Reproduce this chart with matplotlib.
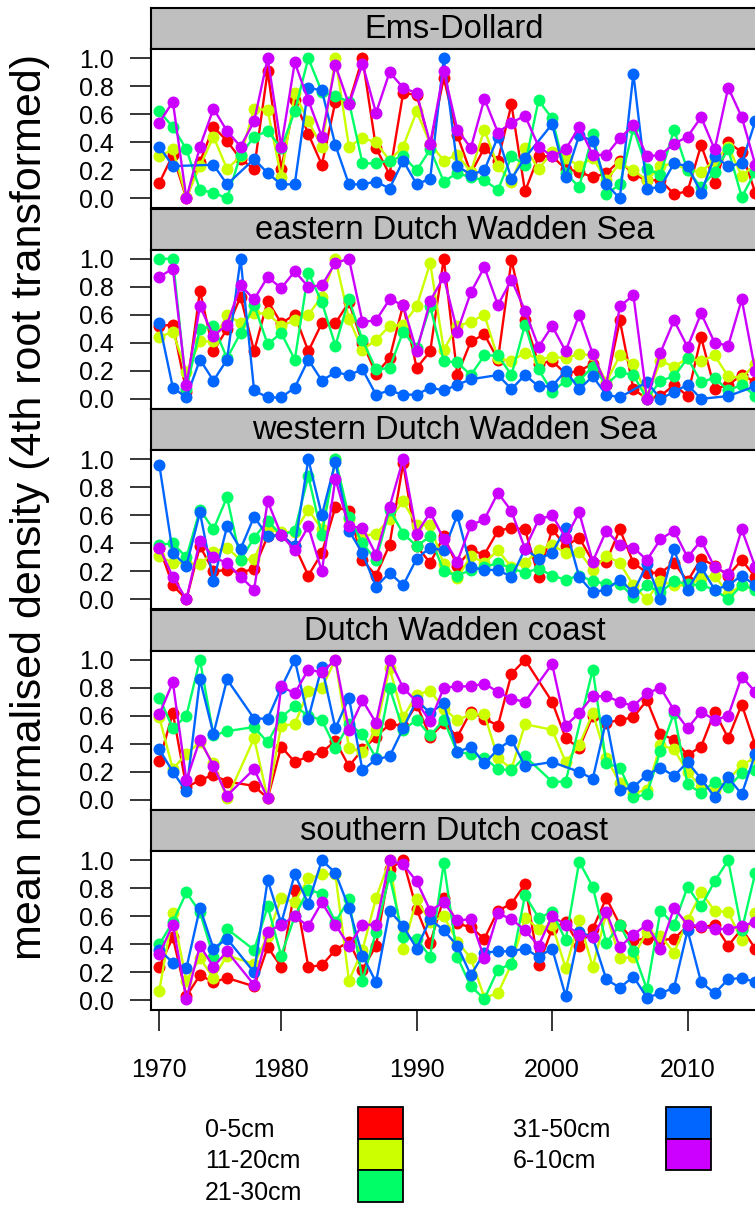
"""
Mean normalised density per size class, five coastal regions, lattice-style panels
"""

import matplotlib
matplotlib.use('Agg')
import matplotlib.pyplot as plt
from matplotlib.patches import Rectangle
import numpy as np

nan = np.nan

# 45 sampling years, plotted by position; decade labels placed at positions 1, 10, 20, 30, 40
years = list(range(1970, 2015))
tick_pos = [1, 10, 20, 30, 40]
tick_labels = ['1970', '1980', '1990', '2000', '2010']

regions = ['Ems-Dollard', 'eastern Dutch Wadden Sea', 'western Dutch Wadden Sea',
           'Dutch Wadden coast', 'southern Dutch coast']
size_classes = ['0-5cm', '11-20cm', '21-30cm', '31-50cm', '6-10cm']
colors = ['#FF0000', '#CCFF00', '#00FF66', '#0066FF', '#CC00FF']

# --- Ems-Dollard
ems_0_5 = [0.11, 0.31, 0.00, 0.26, 0.51, 0.41, 0.28, 0.21, 0.91, 0.21,
           0.70, 0.46, 0.24, 0.69, 0.68, 1.00, 0.36, 0.17, 0.75, 0.74,
           0.38, 0.86, 0.45, 0.18, 0.36, 0.27, 0.67, 0.05, 0.30, 0.30,
           0.21, 0.19, 0.15, 0.18, 0.27, 0.17, 0.13, 0.13, 0.03, 0.05,
           0.38, 0.11, 0.40, 0.33, 0.04]
ems_11_20 = [0.30, 0.35, 0.01, 0.23, 0.44, 0.21, 0.30, 0.64, 0.63, 0.15,
             0.75, 0.55, 0.37, 1.00, 0.37, 0.43, 0.40, 0.27, 0.37, 0.62,
             0.39, 0.27, 0.31, 0.19, 0.49, 0.23, 0.12, 0.36, 0.21, 0.33,
             0.29, 0.23, 0.29, 0.13, 0.25, 0.20, 0.13, 0.23, 0.25, 0.20,
             0.19, 0.27, 0.37, 0.16, 0.24]
ems_21_30 = [0.62, 0.51, 0.35, 0.06, 0.04, 0.00, 0.31, 0.44, 0.48, 0.36,
             0.62, 1.00, 0.76, 0.73, 0.69, 0.25, 0.25, 0.27, 0.30, 0.20,
             0.35, 0.12, 0.18, 0.15, 0.13, 0.06, 0.30, 0.24, 0.70, 0.57,
             0.18, 0.08, 0.46, 0.03, 0.10, 0.50, 0.21, 0.17, 0.49, 0.20,
             0.08, 0.19, 0.35, 0.01, 0.19]
ems_31_50 = [0.37, 0.23, nan, nan, 0.24, 0.10, nan, 0.28, 0.18, 0.10,
             0.10, 0.79, 0.77, 0.38, 0.10, 0.10, 0.12, 0.07, 0.27, 0.10,
             0.14, 1.00, 0.23, 0.17, 0.20, 0.44, 0.14, 0.29, nan, 0.53,
             0.15, 0.45, 0.41, 0.10, 0.00, 0.89, 0.07, 0.08, 0.25, 0.23,
             0.04, 0.30, 0.23, 0.25, 0.55]
ems_6_10 = [0.54, 0.69, 0.00, 0.37, 0.64, 0.48, 0.37, 0.55, 1.00, 0.37,
            0.97, 0.70, 0.44, 0.95, 0.67, 0.96, 0.61, 0.90, 0.79, 0.75,
            0.39, 0.91, 0.49, 0.36, 0.71, 0.47, 0.54, 0.59, 0.37, 0.30,
            0.35, 0.51, 0.31, 0.31, 0.43, 0.52, 0.30, 0.31, 0.39, 0.44,
            0.58, 0.35, 0.79, 0.58, 0.24]

# --- eastern Dutch Wadden Sea
edws_0_5 = [0.52, 0.53, 0.05, 0.77, 0.34, 0.50, 0.73, 0.34, 0.70, 0.54,
            0.60, 0.34, 0.54, 0.54, 0.69, 0.40, 0.18, 0.29, 0.67, 0.22,
            0.34, 1.00, 0.17, 0.41, 0.46, 0.28, 0.99, 0.56, 0.25, 0.27,
            0.18, 0.20, 0.25, 0.10, 0.56, 0.07, 0.00, 0.02, 0.10, 0.02,
            0.44, 0.07, 0.10, 0.17, 0.12]
edws_11_20 = [0.44, 0.48, 0.19, 0.41, 0.41, 0.60, 0.54, 0.61, 0.61, 0.52,
              0.56, 0.60, 0.73, 1.00, 0.57, 0.35, 0.42, 0.52, 0.53, 0.66,
              0.97, 0.35, 0.52, 0.55, 0.60, 0.29, 0.27, 0.33, 0.28, 0.30,
              0.29, 0.32, 0.31, 0.12, 0.31, 0.25, 0.02, 0.27, 0.23, 0.29,
              0.27, 0.31, 0.16, 0.15, 0.25]
edws_21_30 = [1.00, 1.00, 0.07, 0.50, 0.52, 0.29, 0.47, 0.67, 0.39, 0.47,
              0.28, 0.90, 0.69, 0.38, 0.71, 0.42, 0.21, 0.22, 0.48, 0.36,
              0.66, 0.27, 0.26, 0.17, 0.31, 0.31, 0.17, 0.53, 0.21, 0.05,
              0.13, 0.13, 0.23, 0.10, 0.19, 0.17, 0.00, 0.13, 0.16, 0.29,
              0.12, 0.15, 0.06, 0.10, 0.02]
edws_31_50 = [0.54, 0.08, 0.01, 0.28, 0.13, 0.28, 1.00, 0.06, 0.01, 0.01,
              0.08, 0.28, 0.13, 0.19, 0.17, 0.21, 0.03, 0.06, 0.03, 0.03,
              0.08, 0.06, 0.10, 0.14, nan, 0.17, 0.07, 0.17, 0.09, 0.09,
              0.20, 0.07, 0.16, 0.03, 0.01, nan, 0.12, 0.00, 0.05, 0.10,
              0.00, nan, 0.02, nan, 0.09]
edws_6_10 = [0.87, 0.93, 0.10, 0.66, 0.45, 0.53, 0.81, 0.71, 0.87, 0.79,
             0.91, 0.80, 0.81, 0.97, 1.00, 0.55, 0.56, 0.71, 0.67, 0.34,
             0.70, 0.87, 0.48, 0.76, 0.94, 0.67, 0.85, 0.63, 0.37, 0.52,
             0.34, 0.60, 0.32, 0.10, 0.66, 0.74, 0.00, 0.33, 0.56, 0.37,
             0.61, 0.40, 0.38, 0.71, 0.20]

# --- western Dutch Wadden Sea
wdws_0_5 = [0.37, 0.10, 0.00, 0.38, 0.20, 0.21, 0.19, 0.22, 0.45, 0.46,
            0.38, 0.17, 0.33, 0.66, 0.63, 0.28, 0.17, 0.39, 0.97, 0.38,
            0.26, 0.45, 0.24, 0.35, 0.32, 0.49, 0.51, 0.50, 0.16, 0.50,
            0.38, 0.44, 0.27, 0.27, 0.50, 0.26, 0.19, 0.19, 0.26, 0.13,
            0.29, 0.24, 0.17, 0.28, 0.16]
wdws_11_20 = [0.31, 0.26, 0.26, 0.25, 0.34, 0.37, 0.28, 0.29, 0.50, 0.48,
              0.48, 0.64, 0.50, 1.00, 0.57, 0.45, 0.47, 0.57, 0.70, 0.53,
              0.53, 0.25, 0.15, 0.31, 0.26, 0.35, 0.23, 0.26, 0.35, 0.39,
              0.33, 0.34, 0.21, 0.31, 0.26, 0.10, 0.00, 0.13, 0.10, 0.10,
              0.15, 0.17, 0.04, 0.10, 0.08]
wdws_21_30 = [0.39, 0.40, 0.30, 0.64, 0.50, 0.73, 0.28, 0.44, 0.56, 0.46,
              0.49, 0.88, 0.46, 1.00, 0.59, 0.40, 0.28, 0.64, 0.47, 0.38,
              0.45, 0.20, 0.17, 0.21, 0.23, 0.26, 0.22, 0.19, 0.22, 0.17,
              0.14, 0.17, 0.13, 0.11, 0.11, 0.02, 0.10, 0.05, 0.13, 0.11,
              0.10, 0.07, 0.00, 0.10, 0.07]
wdws_31_50 = [0.96, 0.33, 0.24, 0.62, 0.13, 0.52, 0.36, 0.59, 0.45, 0.46,
              0.38, 1.00, 0.60, 0.98, 0.49, 0.33, 0.09, 0.19, 0.10, 0.29,
              0.37, 0.35, 0.60, 0.23, 0.21, 0.21, 0.16, 0.36, 0.29, 0.33,
              0.51, 0.16, 0.05, 0.07, 0.14, 0.05, 0.25, 0.00, 0.36, 0.07,
              0.23, 0.07, 0.10, 0.17, 0.10]
wdws_6_10 = [0.37, 0.16, 0.00, 0.42, 0.30, 0.26, 0.16, 0.07, 0.70, 0.46,
             0.35, 0.52, 0.20, 0.86, 0.52, 0.51, 0.32, 0.66, 1.00, 0.47,
             0.62, 0.43, 0.27, 0.53, 0.57, 0.76, 0.63, 0.36, 0.57, 0.60,
             0.44, 0.62, 0.27, 0.49, 0.39, 0.37, 0.28, 0.43, 0.49, 0.30,
             0.42, 0.23, 0.18, 0.50, 0.23]

# --- Dutch Wadden coast
dwc_0_5 = [0.28, 0.62, 0.09, 0.14, 0.18, 0.13, nan, 0.10, 0.01, 0.38,
           0.27, 0.31, 0.34, 0.42, 0.24, 0.36, 0.45, 0.54, 0.53, 0.68,
           0.45, 0.55, 0.45, 0.63, 0.58, 0.53, 0.90, 1.00, nan, 0.70,
           0.44, 0.37, 0.60, 0.55, 0.57, 0.59, 0.71, 0.47, 0.43, 0.32,
           0.38, 0.63, 0.44, 0.68, 0.39]
dwc_11_20 = [0.59, 0.22, 0.33, 0.41, 0.26, 0.01, nan, 0.44, 0.01, 0.53,
             0.54, 0.78, 0.80, 1.00, 0.37, 0.34, 0.50, 0.94, 0.59, 0.75,
             0.78, 0.65, 0.57, 0.61, 0.61, 0.30, 0.22, 0.54, nan, 0.50,
             0.27, 0.39, 0.62, 0.30, 0.12, 0.05, 0.07, 0.39, 0.36, 0.20,
             0.09, 0.07, 0.14, 0.25, 0.30]
dwc_21_30 = [0.73, 0.51, 0.60, 1.00, 0.46, 0.49, nan, 0.52, 0.41, 0.59,
             0.67, 0.60, 0.57, 0.37, 0.54, 0.47, 0.30, 0.80, 0.50, 0.57,
             0.46, 0.57, 0.34, 0.33, 0.30, 0.22, 0.21, 0.31, nan, 0.13,
             0.13, nan, 0.93, 0.26, 0.23, 0.02, 0.04, 0.35, 0.62, 0.11,
             0.05, 0.13, 0.09, 0.19, 0.21]
dwc_31_50 = [0.36, 0.20, 0.06, 0.86, 0.47, 0.86, nan, 0.58, 0.58, 0.80,
             1.00, 0.58, 0.95, 0.51, 0.73, 0.21, 0.29, 0.31, 0.51, 0.71,
             0.62, 0.69, 0.34, 0.38, 0.26, 0.36, 0.43, 0.24, nan, 0.27,
             nan, 0.20, 0.15, 0.57, 0.07, 0.09, 0.18, 0.23, 0.17, 0.27,
             0.15, 0.02, 0.16, 0.04, 0.33]
dwc_6_10 = [0.61, 0.84, 0.14, 0.43, 0.24, 0.03, nan, 0.22, 0.01, 0.81,
            0.76, 0.93, 0.91, 1.00, 0.50, 0.71, 0.55, 1.00, 0.80, 0.70,
            0.56, 0.80, 0.81, 0.81, 0.83, 0.77, 0.72, 0.70, nan, 0.97,
            0.53, 0.62, 0.74, 0.74, 0.70, 0.67, 0.76, 0.80, 0.64, 0.51,
            0.63, 0.57, 0.60, 0.88, 0.77]

# --- southern Dutch coast
sdc_0_5 = [0.24, 0.45, 0.03, 0.18, 0.13, 0.16, nan, 0.10, 0.38, 0.24,
           0.79, 0.24, 0.25, 0.36, 0.42, 0.22, 0.39, 0.94, 1.00, 0.65,
           0.41, 0.73, 0.55, 0.52, 0.44, 0.64, 0.69, 0.83, 0.25, 0.51,
           0.56, 0.39, 0.51, 0.73, 0.54, 0.43, 0.44, 0.43, 0.44, 0.53,
           0.52, 0.54, 0.39, 0.51, 0.37]
sdc_11_20 = [0.07, 0.62, 0.14, 0.30, 0.16, 0.32, nan, 0.26, 0.46, 0.73,
             0.70, 0.87, 0.90, 0.90, 0.14, 0.36, 0.73, 1.00, 0.37, 0.72,
             0.56, 0.60, 0.42, 0.30, 0.02, 0.05, 0.26, 0.59, 0.51, 0.54,
             0.23, 0.57, 0.24, 0.62, 0.30, 0.31, 0.49, 0.46, 0.34, 0.57,
             0.77, 0.64, 0.63, 0.43, 0.62]
sdc_21_30 = [0.40, 0.56, 0.77, 0.63, 0.31, 0.51, nan, 0.36, 0.67, 0.32,
             0.60, 0.79, 0.76, 0.56, 0.72, 0.14, 0.49, 0.89, 0.45, 0.44,
             0.31, 0.98, 0.31, 0.10, 0.01, 0.22, 0.26, 0.75, 0.59, 0.63,
             0.43, 0.99, 0.81, 0.41, 0.54, 0.35, 0.08, 0.64, 0.54, 0.81,
             0.67, 0.85, 1.00, 0.50, 0.91]
sdc_31_50 = [0.36, 0.27, 0.23, 0.66, 0.37, 0.44, nan, 0.20, 0.86, 0.55,
             0.90, 0.69, 1.00, 0.91, 0.66, 0.32, 0.13, 0.64, 0.53, 0.37,
             0.58, 0.50, 0.39, 0.18, 0.34, 0.35, 0.35, 0.37, 0.31, 0.37,
             0.03, 0.49, 0.45, 0.15, 0.09, 0.17, 0.02, 0.05, 0.09, 0.50,
             0.13, 0.05, 0.15, 0.16, 0.13]
sdc_6_10 = [0.33, 0.54, 0.01, 0.39, 0.24, 0.35, nan, 0.11, 0.49, 0.54,
            0.60, 0.53, 0.70, 0.54, 0.39, 0.54, 0.54, 1.00, 0.97, 0.85,
            0.64, 0.70, 0.57, 0.58, 0.30, 0.62, 0.58, 0.50, 0.39, 0.60,
            0.54, 0.47, 0.45, 0.63, 0.38, 0.47, 0.54, 0.37, 0.66, 0.54,
            0.53, 0.51, 0.51, 0.53, 0.56]

panel_series = [
    [ems_0_5, ems_11_20, ems_21_30, ems_31_50, ems_6_10],
    [edws_0_5, edws_11_20, edws_21_30, edws_31_50, edws_6_10],
    [wdws_0_5, wdws_11_20, wdws_21_30, wdws_31_50, wdws_6_10],
    [dwc_0_5, dwc_11_20, dwc_21_30, dwc_31_50, dwc_6_10],
    [sdc_0_5, sdc_11_20, sdc_21_30, sdc_31_50, sdc_6_10],
]

plt.rcParams['font.family'] = ['Liberation Sans', 'DejaVu Sans']

W, H = 755, 1207
fig = plt.figure(figsize=(W / 100, H / 100), dpi=100)
fig.patch.set_facecolor('white')


def box(left, top, right, bottom):
    """pixel box -> figure fraction rect"""
    return [left / W, 1 - bottom / H, (right - left) / W, (bottom - top) / H]


x = np.arange(1, len(years) + 1)
left_px, right_px = 151, 758
strip_h = 41.0
plot_h = 159.3

for k, (region, series) in enumerate(zip(regions, panel_series)):
    top = 8 + 200.5 * k
    strip = fig.add_axes(box(left_px, top, right_px, top + strip_h))
    strip.set_facecolor('#bfbfbf')
    strip.set_xticks([])
    strip.set_yticks([])
    for sp in strip.spines.values():
        sp.set_linewidth(1.5)
    strip.text(0.5, 0.47, region, ha='center', va='center', fontsize=23.5,
               transform=strip.transAxes)

    ax = fig.add_axes(box(left_px, top + strip_h, right_px, top + strip_h + plot_h))
    for i, (vals, col) in enumerate(zip(series, colors)):
        v = np.array(vals, dtype=float)
        ok = ~np.isnan(v)
        ax.plot(x[ok], v[ok], color=col, lw=1.7, marker='o', ms=8.6,
                mec=col, mew=0, zorder=3 + i, clip_on=False)

    ax.set_xlim(0.387, 45.2)
    ax.set_ylim(-0.071, 1.066)
    ax.set_yticks([0.0, 0.2, 0.4, 0.6, 0.8, 1.0])
    ax.set_yticklabels(['0.0', '0.2', '0.4', '0.6', '0.8', '1.0'])
    ax.tick_params(axis='y', direction='out', length=15, width=1.1, pad=12,
                   labelsize=18)
    for sp in ax.spines.values():
        sp.set_linewidth(1.5)

    if k == len(regions) - 1:
        ax.set_xticks(tick_pos)
        ax.set_xticklabels(tick_labels)
        ax.tick_params(axis='x', direction='out', length=15, width=1.1,
                       pad=19, labelsize=18)
    else:
        ax.set_xticks([])

fig.text(30 / W, 1 - 507 / H, 'mean normalised density (4th root transformed)',
         rotation=90, ha='center', va='center', fontsize=31)

# key: labels on the left, colour boxes to the right, two columns
key_cols = [(205, 358, 403, [0, 1, 2]), (513, 666, 711, [3, 4])]
row_h = 31.8
for text_x, bx0, bx1, members in key_cols:
    for r, idx in enumerate(members):
        by0 = 1106.7 + r * row_h
        fig.patches.append(Rectangle((bx0 / W, 1 - (by0 + row_h) / H),
                                     (bx1 - bx0) / W, row_h / H,
                                     facecolor=colors[idx], edgecolor='black',
                                     lw=1.3, transform=fig.transFigure,
                                     figure=fig))
        fig.text(text_x / W, 1 - (by0 + row_h / 2 + 7) / H, size_classes[idx],
                 ha='left', va='center', fontsize=18)

plt.savefig('out.png', dpi=100, facecolor='white')
plt.close()
